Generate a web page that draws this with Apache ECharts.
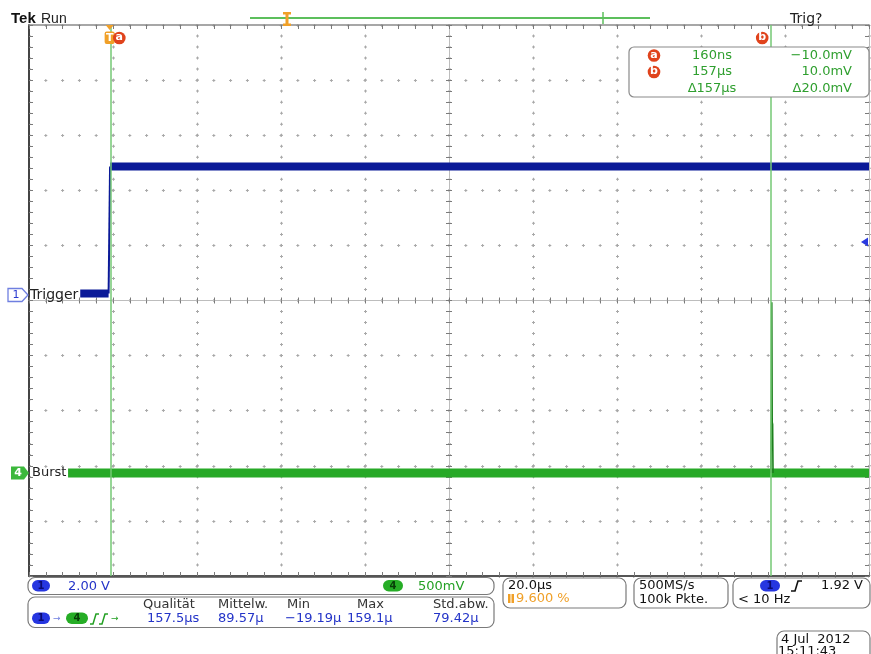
<!DOCTYPE html>
<html><head><meta charset="utf-8">
<script src="https://cdn.jsdelivr.net/npm/echarts@6/dist/echarts.min.js"></script>
<style>html,body{margin:0;padding:0;background:#fff}#c{width:871px;height:654px}</style>
</head><body><div id="c"></div>
<script>
// ---- time base ----
const usPerDiv = 20;            // 20.0 µs/div
const triggerPosPct = 9.6;      // 9.600 %
const divsX = 10;
const timeMin = -triggerPosPct / 100 * divsX * usPerDiv;
const timeMax = timeMin + divsX * usPerDiv;

// ---- channel 1 "Trigger" (2.00 V/div) ----
const ch1Scale = 2.0, ch1Pos = 0.1;
const ch1Time = [-7.0, -0.25, 0.1, 180.8];
const ch1Volt = [0.05, 0.05, 4.66, 4.66];

// ---- channel 4 "Burst" (500 mV/div) ----
const ch4Scale = 0.5, ch4Pos = -3.13;
const ch4Time = [-9.9, 180.8];
const ch4Volt = [0.0, 0.0];
const ch4SpikeTime = [157.45, 157.55, 157.65, 157.75, 157.85, 157.95];
const ch4SpikeVolt = [0.0, 0.46, 1.55, 0.46, 0.44, 0.0];

// ---- cursors / trigger ----
const cursorA = 0.16, cursorB = 157.4;
const triggerLevel = 1.92;

// ---- readouts ----
const cursorRows = [['a', '160ns', '\u221210.0mV'], ['b', '157\u00b5s', '10.0mV'], ['', '\u0394157\u00b5s', '\u039420.0mV']];
const measHeaders = ['Qualit\u00e4t', 'Mittelw.', 'Min', 'Max', 'Std.abw.'];
const measValues = ['157.5\u00b5s', '89.57\u00b5', '\u221219.19\u00b5', '159.1\u00b5', '79.42\u00b5'];

const toDiv = (v, s, p) => v / s + p;
const chart = echarts.init(document.getElementById('c'), null, {renderer: 'canvas'});
const FONT = '"DejaVu Sans", Verdana, sans-serif';

function ax(o) {
  return Object.assign({type: 'value', axisLabel: {show: false}, splitLine: {show: false},
    axisTick: {show: false}, minorTick: {show: false}, minorSplitLine: {show: false}, silent: true}, o);
}
const tickStyle = {color: '#7a7a7a', width: 1};
const gratColor = '#a8a8a8';

function bandData(ts, vs, s, p) {
  const out = [];
  for (let i = 0; i < ts.length; i += 2) {
    out.push([ts[i], toDiv(vs[i], s, p)], [ts[i + 1], toDiv(vs[i + 1], s, p)]);
    if (i + 2 < ts.length) out.push([(ts[i + 1] + ts[i + 2]) / 2, '-']);
  }
  return out;
}
function edgeData(ts, vs, s, p) {
  const out = [];
  for (let i = 1; i + 1 < ts.length; i += 2) {
    out.push([ts[i], toDiv(vs[i], s, p)], [ts[i + 1], toDiv(vs[i + 1], s, p)]);
  }
  return out;
}

const option = {
  animation: false,
  grid: {left: 29, top: 25, width: 840, height: 551, containLabel: false},
  xAxis: [
    {type: 'value', min: timeMin, max: timeMax, show: false},
    ax({min: 0, max: 10, interval: 1, position: 'bottom',
      axisLine: {show: true, onZero: false, lineStyle: {color: '#555', width: 2}},
      axisTick: {show: true, inside: true, length: 4, lineStyle: tickStyle},
      minorTick: {show: true, splitNumber: 5, length: 4, lineStyle: tickStyle},
      splitLine: {show: true, lineStyle: {color: gratColor, width: 1, type: [3, 8.02], dashOffset: 1.5}}}),
    ax({min: 0, max: 10, interval: 1, position: 'top',
      axisLine: {show: true, onZero: false, lineStyle: {color: '#8a8a8a', width: 1.5}},
      axisTick: {show: true, inside: true, length: 4, lineStyle: tickStyle},
      minorTick: {show: true, splitNumber: 5, length: 4, lineStyle: tickStyle},
      splitLine: {show: true, lineStyle: {color: gratColor, width: 3, type: [1, 10.02], dashOffset: 0.5}}}),
    ax({min: -5, max: 5, interval: 1, position: 'bottom',
      axisLine: {show: true, onZero: true, onZeroAxisIndex: 3, lineStyle: {color: '#bdbdbd', width: 1}},
      axisTick: {show: true, inside: true, length: 3, lineStyle: tickStyle},
      minorTick: {show: true, splitNumber: 5, length: 3, lineStyle: tickStyle}}),
    ax({min: -5, max: 5, interval: 1, position: 'bottom',
      axisLine: {show: false, onZero: true, onZeroAxisIndex: 3},
      axisTick: {show: true, inside: false, length: 3, lineStyle: tickStyle},
      minorTick: {show: true, splitNumber: 5, length: 3, lineStyle: tickStyle}})
  ],
  yAxis: [
    {type: 'value', min: -5, max: 5, show: false},
    ax({min: 0, max: 10, interval: 1, position: 'left',
      axisLine: {show: true, onZero: false, lineStyle: {color: '#444', width: 2}},
      axisTick: {show: true, inside: true, length: 4, lineStyle: tickStyle},
      minorTick: {show: true, splitNumber: 5, length: 4, lineStyle: tickStyle},
      splitLine: {show: true, lineStyle: {color: gratColor, width: 1, type: [3, 13.8], dashOffset: 1.5}}}),
    ax({min: 0, max: 10, interval: 1, position: 'right',
      axisLine: {show: true, onZero: false, lineStyle: {color: '#bbb', width: 1}},
      axisTick: {show: true, inside: true, length: 4, lineStyle: tickStyle},
      minorTick: {show: true, splitNumber: 5, length: 4, lineStyle: tickStyle},
      splitLine: {show: true, lineStyle: {color: gratColor, width: 3, type: [1, 15.8], dashOffset: 0.5}}}),
    ax({min: -5, max: 5, interval: 1, position: 'left',
      axisLine: {show: true, onZero: true, onZeroAxisIndex: 3, lineStyle: {color: '#bdbdbd', width: 1}},
      axisTick: {show: true, inside: true, length: 3, lineStyle: tickStyle},
      minorTick: {show: true, splitNumber: 5, length: 3, lineStyle: tickStyle}}),
    ax({min: -5, max: 5, interval: 1, position: 'left',
      axisLine: {show: false, onZero: true, onZeroAxisIndex: 3},
      axisTick: {show: true, inside: false, length: 3, lineStyle: tickStyle},
      minorTick: {show: true, splitNumber: 5, length: 3, lineStyle: tickStyle}})
  ],
  series: [
    {type: 'line', name: 'cursors', xAxisIndex: 0, yAxisIndex: 0, z: 1, data: [], symbol: 'none', silent: true,
      markLine: {silent: true, symbol: 'none', label: {show: false},
        lineStyle: {color: '#74c874', width: 1.5, type: 'solid'},
        data: [{xAxis: cursorA}, {xAxis: cursorB}]}},
    {type: 'line', name: 'Burst', xAxisIndex: 0, yAxisIndex: 0, z: 3, symbol: 'none', silent: true,
      lineStyle: {color: '#27a927', width: 9}, data: bandData(ch4Time, ch4Volt, ch4Scale, ch4Pos)},
    {type: 'line', name: 'BurstSpike', xAxisIndex: 0, yAxisIndex: 0, z: 4, symbol: 'none', silent: true,
      lineStyle: {color: '#1c7f1c', width: 1.6},
      data: ch4SpikeTime.map((t, i) => [t, toDiv(ch4SpikeVolt[i], ch4Scale, ch4Pos)])},
    {type: 'line', name: 'Trigger', xAxisIndex: 0, yAxisIndex: 0, z: 3, symbol: 'none', silent: true,
      lineStyle: {color: '#0b1a98', width: 8}, data: bandData(ch1Time, ch1Volt, ch1Scale, ch1Pos)},
    {type: 'line', name: 'TriggerEdge', xAxisIndex: 0, yAxisIndex: 0, z: 3, symbol: 'none', silent: true,
      lineStyle: {color: '#0b1a98', width: 2}, data: edgeData(ch1Time, ch1Volt, ch1Scale, ch1Pos)}
  ]
};
chart.setOption(option);

// ---- annotations (screen UI) ----
const px = t => chart.convertToPixel({xAxisIndex: 0}, t);
const py = d => chart.convertToPixel({yAxisIndex: 0}, d);
function T(x, y, text, o) {
  o = o || {};
  return {type: 'text', x: x, y: y, z: o.z || 102, silent: true, style: Object.assign({
    text: text, fill: '#111', font: '13px ' + FONT, align: o.align || 'left', textAlign: o.align || 'left',
    verticalAlign: 'middle', textVerticalAlign: 'middle'}, o.style || {})};
}
function R(x, y, w, h, r, fill, stroke, lw) {
  return {type: 'rect', z: 99, silent: true, shape: {x: x, y: y, width: w, height: h, r: r},
    style: {fill: fill || 'none', stroke: stroke || 'none', lineWidth: lw || 1}};
}
function badge(x, y, w, h, fill, txt, txtColor) {
  return [R(x, y, w, h, h / 2, fill), T(x + w / 2, y + h / 2 + 0.5, txt, {align: 'center', style: {fill: txtColor, font: 'bold 10px ' + FONT}})];
}
function redDot(cx, cy, letter) {
  return [{type: 'circle', z: 101, silent: true, shape: {cx: cx, cy: cy, r: 6.3}, style: {fill: '#e0431c'}},
    T(cx, cy - 0.5, letter, {align: 'center', style: {fill: '#fff', font: 'bold 11px ' + FONT}})];
}
const blue = '#2434c8', green = '#24a024', orange = '#f0a028';
const xA = px(cursorA), xB = px(cursorB), xT = px(0);
const yCh1 = py(ch1Pos), yCh4 = py(ch4Pos), yTrig = py(toDiv(triggerLevel, ch1Scale, ch1Pos));

let g = [];
// top bar
g.push(T(11, 19, 'Tek', {style: {font: 'bold 15px "Liberation Sans", Arial, sans-serif', fill: '#111'}}));
g.push(T(41, 19, 'Run', {style: {font: '14px "Liberation Sans", Arial, sans-serif', fill: '#222'}}));
g.push({type: 'line', z: 99, silent: true, shape: {x1: 250, y1: 18, x2: 650, y2: 18}, style: {stroke: '#5cbf5c', lineWidth: 2}});
g.push({type: 'line', z: 99, silent: true, shape: {x1: 603, y1: 12, x2: 603, y2: 24}, style: {stroke: '#5cbf5c', lineWidth: 1.5}});
g.push({type: 'polygon', z: 100, silent: true, shape: {points: [[283, 12], [291, 12], [291, 14.5], [288.5, 14.5], [288.5, 23.5], [291, 23.5], [291, 26], [283, 26], [283, 23.5], [285.5, 23.5], [285.5, 14.5], [283, 14.5]]}, style: {fill: orange}});
g.push(T(790, 19, 'Trig?', {style: {font: '14px ' + FONT, fill: '#222'}}));
// trigger position marker + cursor a marker
g.push({type: 'polygon', z: 100, silent: true, shape: {points: [[xT - 4, 25], [xT + 4, 25], [xT, 30]]}, style: {fill: orange}});
g.push(R(xT - 5, 31.5, 10, 12.5, 2, orange));
g.push(T(xT, 38, 'T', {align: 'center', style: {fill: '#fff', font: 'bold 11px ' + FONT}}));
g = g.concat(redDot(xA + 9, 38, 'a'));
g = g.concat(redDot(xB - 8.5, 38, 'b'));
// cursor readout box
g.push(Object.assign(R(629, 47, 240, 50, 5, '#fff', '#8a8a8a', 1.2), {z: 98}));
cursorRows.forEach((row, i) => {
  const y = 55.5 + i * 16.5;
  if (row[0]) g = g.concat(redDot(654, y, row[0]));
  g.push(T(712, y, row[1], {align: 'center', style: {fill: '#2f9f2f', font: '13px ' + FONT}}));
  g.push(T(852, y, row[2], {align: 'right', style: {fill: '#2f9f2f', font: '13px ' + FONT}}));
});
// channel markers
g.push({type: 'polygon', z: 100, silent: true, shape: {points: [[8, yCh1 - 6.5], [22, yCh1 - 6.5], [28, yCh1], [22, yCh1 + 6.5], [8, yCh1 + 6.5]]}, style: {fill: '#fff', stroke: '#6f7fe0', lineWidth: 1.3}});
g.push(T(16, yCh1, '1', {align: 'center', style: {fill: '#2a3ad0', font: '11px ' + FONT}}));
g.push(T(30, yCh1, 'Trigger', {style: {fill: '#222', font: '14px ' + FONT}}));
g.push({type: 'polygon', z: 100, silent: true, shape: {points: [[11, yCh4 - 6.5], [24, yCh4 - 6.5], [29, yCh4], [24, yCh4 + 6.5], [11, yCh4 + 6.5]]}, style: {fill: '#3cb83c'}});
g.push(T(18, yCh4, '4', {align: 'center', style: {fill: '#fff', font: 'bold 11px ' + FONT}}));
g.push(T(32, yCh4, 'Burst', {style: {fill: '#222', font: '13px ' + FONT}}));
// trigger level marker on right edge
g.push({type: 'polygon', z: 100, silent: true, shape: {points: [[861, yTrig], [868, yTrig - 4.5], [868, yTrig + 4.5]]}, style: {fill: '#2a3ae0'}});

// bottom panels
g.push(R(28, 577.5, 466, 17, 7, 'none', '#7a7a7a', 1.2));
g = g.concat(badge(32, 580, 18, 11.5, '#2636e0', '1', '#0a0a70'));
g.push(T(68, 586.5, '2.00 V', {style: {fill: blue, font: '13px ' + FONT}}));
g = g.concat(badge(383, 580, 20, 11.5, '#26ad26', '4', '#083d08'));
g.push(T(418, 586.5, '500mV', {style: {fill: green, font: '13px ' + FONT}}));

g.push(R(28, 597, 466, 30.5, 7, 'none', '#7a7a7a', 1.2));
g = g.concat(badge(32, 612.5, 18, 11.5, '#2636e0', '1', '#0a0a70'));
g.push(T(53, 618.5, '\u2192', {style: {fill: '#6f7fe0', font: '9px ' + FONT}}));
g = g.concat(badge(66, 612.5, 22, 11.5, '#26ad26', '4', '#083d08'));
g.push({type: 'polyline', z: 100, silent: true, shape: {points: [[90, 624], [93, 624], [96, 614], [99, 614]]}, style: {stroke: green, lineWidth: 1.5, fill: 'none'}});
g.push({type: 'polyline', z: 100, silent: true, shape: {points: [[99, 624], [102, 624], [105, 614], [108, 614]]}, style: {stroke: green, lineWidth: 1.5, fill: 'none'}});
g.push(T(111, 618.5, '\u2192', {style: {fill: green, font: '9px ' + FONT}}));
const hx = [143, 218, 287, 357, 433], vx = [147, 218, 285, 347, 433];
measHeaders.forEach((h, i) => g.push(T(hx[i], 605, h, {style: {fill: '#333', font: '13px ' + FONT}})));
measValues.forEach((v, i) => g.push(T(vx[i], 619, v, {style: {fill: blue, font: '13px ' + FONT}})));

g.push(R(503, 578, 123, 30, 7, 'none', '#7a7a7a', 1.2));
g.push(T(508, 586, '20.0\u00b5s', {style: {fill: '#111', font: '13px ' + FONT}}));
g.push(R(508, 594, 2.5, 9, 0, orange));
g.push(R(511.5, 594, 2.5, 9, 0, orange));
g.push(T(516, 599, '9.600 %', {style: {fill: orange, font: '13px ' + FONT}}));

g.push(R(634, 578, 94, 30, 7, 'none', '#7a7a7a', 1.2));
g.push(T(639, 586, '500MS/s', {style: {fill: '#111', font: '13px ' + FONT}}));
g.push(T(639, 600, '100k Pkte.', {style: {fill: '#111', font: '13px ' + FONT}}));

g.push(R(733, 578, 137, 30, 7, 'none', '#7a7a7a', 1.2));
g = g.concat(badge(760, 580, 20, 11.5, '#2636e0', '1', '#0a0a70'));
g.push({type: 'polyline', z: 100, silent: true, shape: {points: [[791, 591], [795, 591], [798, 581], [802, 581]]}, style: {stroke: '#111', lineWidth: 1.6, fill: 'none'}});
g.push(T(863, 586, '1.92 V', {align: 'right', style: {fill: '#111', font: '13px ' + FONT}}));
g.push(T(738, 600, '< 10 Hz', {style: {fill: '#111', font: '13px ' + FONT}}));

g.push(R(777, 631, 93, 30, 7, 'none', '#7a7a7a', 1.2));
g.push(T(781, 640, '4 Jul  2012', {style: {fill: '#111', font: '13px ' + FONT}}));
g.push(T(778, 652, '15:11:43', {style: {fill: '#111', font: '13px ' + FONT}}));

chart.setOption({graphic: {elements: g}});
</script></body></html>
